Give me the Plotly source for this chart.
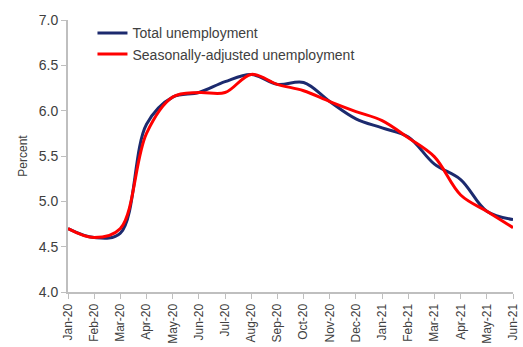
import plotly.graph_objects as go

months = ["Jan-20", "Feb-20", "Mar-20", "Apr-20", "May-20", "Jun-20", "Jul-20", "Aug-20",
          "Sep-20", "Oct-20", "Nov-20", "Dec-20", "Jan-21", "Feb-21", "Mar-21", "Apr-21",
          "May-21", "Jun-21"]
total = [4.70, 4.60, 4.65, 5.85, 6.15, 6.20, 6.32, 6.40, 6.29, 6.31, 6.10, 5.91, 5.81, 5.71,
         5.41, 5.24, 4.89, 4.80]
seasonal = [4.70, 4.60, 4.70, 5.75, 6.15, 6.20, 6.20, 6.40, 6.29, 6.22, 6.10, 5.99, 5.89, 5.70,
            5.49, 5.07, 4.89, 4.71]

y_ticks = [4.0, 4.5, 5.0, 5.5, 6.0, 6.5, 7.0]

fig = go.Figure()
fig.add_trace(go.Scatter(x=months, y=total, mode="lines", name="Total unemployment",
                         line=dict(color="#1c2a6e", width=3, shape="spline", smoothing=1.0)))
fig.add_trace(go.Scatter(x=months, y=seasonal, mode="lines", name="Seasonally-adjusted unemployment",
                         line=dict(color="#ff0000", width=3, shape="spline", smoothing=1.0)))

axis_col = "#bfbfbf"
font_col = "#404040"
fig.update_layout(
    width=523, height=347,
    margin=dict(l=68, r=3, t=20, b=52),
    paper_bgcolor="white", plot_bgcolor="white",
    font=dict(family="Liberation Sans, Arial, sans-serif", size=12, color=font_col),
    showlegend=True,
    legend=dict(x=0.055, y=1.01, xanchor="left", yanchor="top", bgcolor="rgba(0,0,0,0)",
                font=dict(size=14, color=font_col), itemwidth=30, tracegroupgap=0),
    xaxis=dict(type="category", range=[0, len(months) - 1], showgrid=False, zeroline=False,
               showline=True, linecolor=axis_col, linewidth=2,
               ticks="outside", ticklen=5, tickcolor=axis_col, tickwidth=1,
               tickangle=-90, tickfont=dict(size=12, color=font_col)),
    yaxis=dict(range=[4.0, 7.0], tickvals=y_ticks, tickformat=".1f", showgrid=False, zeroline=False,
               showline=True, linecolor=axis_col, linewidth=2,
               ticks="outside", ticklen=5, tickcolor=axis_col, tickwidth=1,
               tickfont=dict(size=14, color=font_col),
               title=dict(text="Percent", font=dict(size=12, color=font_col), standoff=9)),
)

fig.write_html("out.html")
